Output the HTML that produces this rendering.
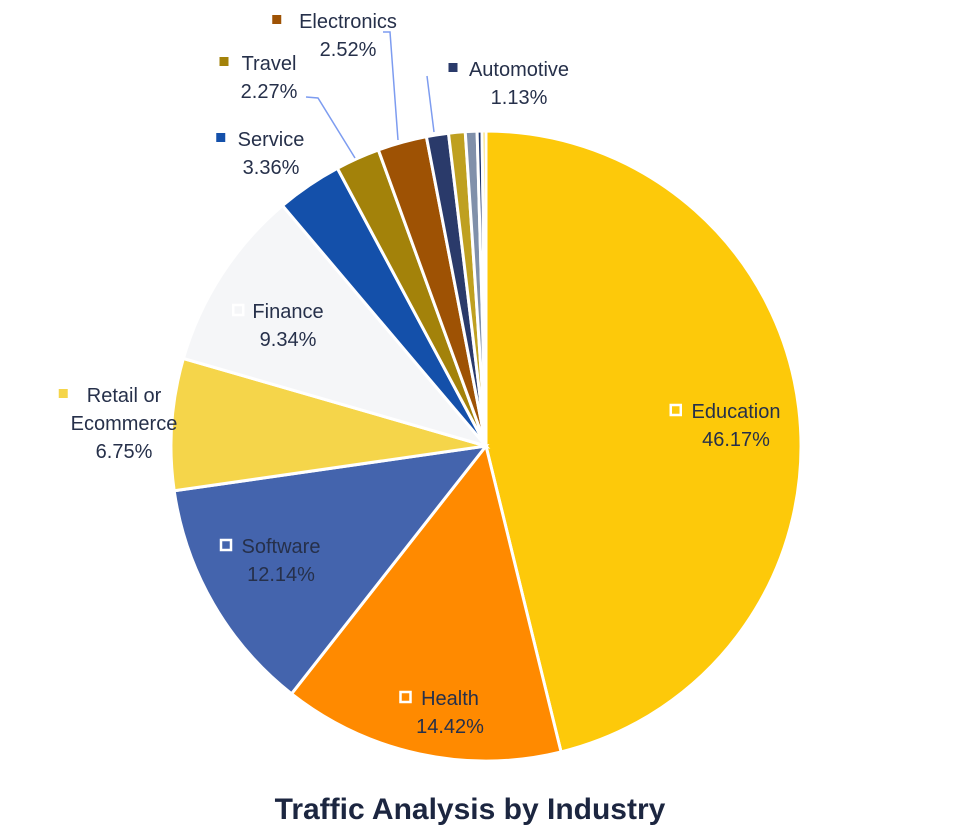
<!DOCTYPE html>
<html><head><meta charset="utf-8"><style>
body{margin:0;background:#fff;width:968px;height:832px;overflow:hidden;font-family:"Liberation Sans",sans-serif}
svg text{font-family:"Liberation Sans",sans-serif;fill:#26304a}
</style></head><body>
<svg id="chart" width="968" height="832" viewBox="0 0 968 832" xmlns="http://www.w3.org/2000/svg">
<g id="slices"></g>
<g id="labels"></g>
<text x="470" y="819" text-anchor="middle" font-size="30" font-weight="bold" style="fill:#1c2640">Traffic Analysis by Industry</text>
</svg>
<script>
const categories=["Education","Health","Software","Retail or Ecommerce","Finance","Service","Travel","Electronics","Automotive","Other A","Other B","Other C","Other D"];
const values=[46.17,14.42,12.14,6.75,9.34,3.36,2.27,2.52,1.13,0.85,0.6,0.25,0.2];
const colors=["#FDC90A","#FF8A00","#4464AD","#F5D54A","#F5F6F8","#1450AA","#A3820A","#9E5204","#2A3A6A","#BFA020","#8090AA","#1F3770","#F5D54A"];
const cx=486,cy=446,r=315;
const NS="http://www.w3.org/2000/svg";
const total=values.reduce((a,b)=>a+b,0);
function pt(a,rr){return [cx+rr*Math.sin(a),cy-rr*Math.cos(a)];}
const g=document.getElementById('slices');
let a0=0;
values.forEach((v,i)=>{
 const a1=a0+v/total*2*Math.PI;
 const p0=pt(a0,r),p1=pt(a1,r);
 const large=(a1-a0)>Math.PI?1:0;
 const p=document.createElementNS(NS,'path');
 p.setAttribute('d',`M${cx},${cy} L${p0[0]},${p0[1]} A${r},${r} 0 ${large} 1 ${p1[0]},${p1[1]} Z`);
 p.setAttribute('fill',colors[i]);
 p.setAttribute('stroke','#fff');
 p.setAttribute('stroke-width','3');
 
 
 g.appendChild(p);
 a0=a1;
});
const L=document.getElementById('labels');
const labels=[
 ["Education","46.17%",736,418,"#FDC90A",true],
 ["Health","14.42%",450,705,"#FF8A00",true],
 ["Software","12.14%",281,553,"#4464AD",true],
 ["Retail or","6.75%",124,402,"#F5D54A",false,"Ecommerce"],
 ["Finance","9.34%",288,318,"#F5F6F8",true],
 ["Service","3.36%",271,146,"#1450AA",false],
 ["Travel","2.27%",269,70,"#A3820A",false],
 ["Electronics","2.52%",348,28,"#9E5204",false],
 ["Automotive","1.13%",519,76,"#2A3A6A",false]
];
labels.forEach(l=>{
 const [name,pct,x,y,col,hollow,extra]=l;
 const grp=document.createElementNS(NS,'g');
 
 
 const tw=name.length*10.5;
 const sq=document.createElementNS(NS,'rect');
 
 
 sq.setAttribute('x',x-tw/2-18);sq.setAttribute('y',y-13);sq.setAttribute('width',hollow?10:9);sq.setAttribute('height',hollow?10:9);
 if(hollow){sq.setAttribute('fill','none');sq.setAttribute('stroke','#fff');sq.setAttribute('stroke-width','2.5');}
 else sq.setAttribute('fill',col);
 grp.appendChild(sq);
 const lines=extra?[name,extra,pct]:[name,pct];
 lines.forEach((t,k)=>{
  const tx=document.createElementNS(NS,'text');
  tx.setAttribute('x',x);tx.setAttribute('y',y+k*28);
  tx.setAttribute('text-anchor','middle');tx.setAttribute('font-size','20');
  tx.textContent=t;grp.appendChild(tx);
 });
 L.appendChild(grp);
});
[["M306,97 L318,98 L355,158"],["M383,32 L390,32 L398,140"],["M427,76 L434,132"]].forEach(d=>{
 const p=document.createElementNS(NS,'path');
 p.setAttribute('d',d[0]);p.setAttribute('fill','none');p.setAttribute('stroke','#7d9cf0');p.setAttribute('stroke-width','1.5');
 
 
 L.appendChild(p);
});
</script>
</body></html>
